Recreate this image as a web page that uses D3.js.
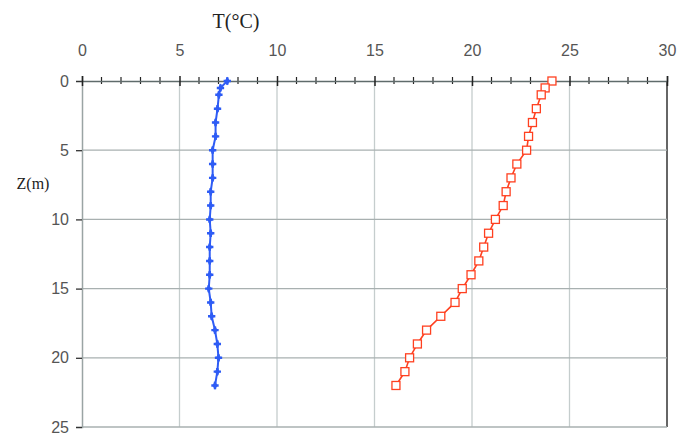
<!DOCTYPE html>
<html><head><meta charset="utf-8">
<script src="https://cdn.jsdelivr.net/npm/d3@7"></script>
<style>body{margin:0;background:#fff}svg{display:block}</style>
</head><body>
<svg id="c" width="678" height="438"></svg>
<script>
const depths = [0,0.5,1,2,3,4,5,6,7,8,9,10,11,12,13,14,15,16,17,18,19,20,21,22];
const tempBlue = [7.45,7.1,7.02,6.95,6.85,6.85,6.7,6.7,6.7,6.6,6.6,6.55,6.6,6.55,6.55,6.55,6.5,6.6,6.65,6.82,6.94,7.0,6.94,6.82];
const tempRed = [24.1,23.75,23.55,23.3,23.1,22.9,22.8,22.3,22.0,21.75,21.6,21.2,20.85,20.6,20.35,19.95,19.5,19.13,18.4,17.67,17.2,16.8,16.56,16.1];
const xTicks = [0,5,10,15,20,25,30];
const yTicks = [0,5,10,15,20,25];

const svg = d3.select("#c");
const x = d3.scaleLinear().domain([0,30]).range([82,667]);
const y = d3.scaleLinear().domain([0,25]).range([81,427]);

// grid
svg.append("g").selectAll("line").data(xTicks.slice(1)).join("line")
  .attr("x1",d=>x(d)).attr("x2",d=>x(d)).attr("y1",y(0)).attr("y2",y(25))
  .attr("stroke",d=>d===30?"#333":"#c5cdcd").attr("stroke-width",d=>d===30?1.5:1.3);
svg.append("g").selectAll("line").data(yTicks.slice(1)).join("line")
  .attr("x1",x(0)).attr("x2",x(30)).attr("y1",d=>y(d)).attr("y2",d=>y(d))
  .attr("stroke","#a8b0b0").attr("stroke-width",1.3);

// y axis
const ya = svg.append("g").attr("transform",`translate(${x(0)},0)`)
  .call(d3.axisLeft(y).tickValues(yTicks).tickSize(6).tickPadding(7));
ya.select(".domain").attr("stroke","#9aa4a4").attr("stroke-width",1.5);
ya.selectAll(".tick line").attr("stroke","#333").attr("stroke-width",1.3);
ya.selectAll("text").attr("font-family","Liberation Sans, Arial, sans-serif").attr("font-size",16).attr("fill","#555");

// x axis (top) with minor ticks crossing
const minor = d3.range(0,31,1).filter(v=>v%5!==0);
const xm = svg.append("g").attr("transform",`translate(0,${y(0)})`);
xm.selectAll("line").data(minor).join("line")
  .attr("x1",d=>x(d)).attr("x2",d=>x(d)).attr("y1",-4).attr("y2",3)
  .attr("stroke","#222").attr("stroke-width",1.2);
const xa = svg.append("g").attr("transform",`translate(0,${y(0)})`)
  .call(d3.axisTop(x).tickValues(xTicks).tickSize(5).tickPadding(20));
xa.select(".domain").attr("stroke","#5f6b6b").attr("stroke-width",1.5);
xa.selectAll(".tick line").attr("stroke","#222").attr("stroke-width",1.5).attr("y2",-5).attr("y1",5);
xa.selectAll("text").attr("font-family","Liberation Sans, Arial, sans-serif").attr("font-size",16).attr("fill","#555");

// titles
svg.append("text").attr("x",236).attr("y",28).attr("text-anchor","middle")
  .attr("font-family","Liberation Serif, Times New Roman, serif").attr("font-size",20).attr("fill","#222").text("T(°C)");
svg.append("text").attr("x",33).attr("y",189).attr("text-anchor","middle")
  .attr("font-family","Liberation Serif, Times New Roman, serif").attr("font-size",16).attr("fill","#222").text("Z(m)");

const line = d3.line().x(d=>x(d[0])).y(d=>y(d[1]));
const blue = tempBlue.map((t,i)=>[t,depths[i]]);
const red = tempRed.map((t,i)=>[t,depths[i]]);

svg.append("path").datum(blue).attr("d",line).attr("fill","none").attr("stroke","#2e5cf5").attr("stroke-width",2);
svg.append("g").selectAll("path").data(blue).join("path")
  .attr("transform",d=>`translate(${x(d[0])},${y(d[1])})`)
  .attr("d",d3.symbol(d3.symbolCross,30)).attr("fill","#2e5cf5");
svg.append("g").selectAll("path").data(blue).join("path")
  .attr("transform",d=>`translate(${x(d[0])},${y(d[1])})`)
  .attr("d",d3.symbol(d3.symbolDiamond,22)).attr("fill","#2e5cf5");

svg.append("path").datum(red).attr("d",line).attr("fill","none").attr("stroke","#ff4020").attr("stroke-width",1.6);
svg.append("g").selectAll("rect").data(red).join("rect")
  .attr("x",d=>x(d[0])-4).attr("y",d=>y(d[1])-4).attr("width",8).attr("height",8)
  .attr("fill","#fff").attr("stroke","#ff4020").attr("stroke-width",1.3);
</script>
</body></html>
